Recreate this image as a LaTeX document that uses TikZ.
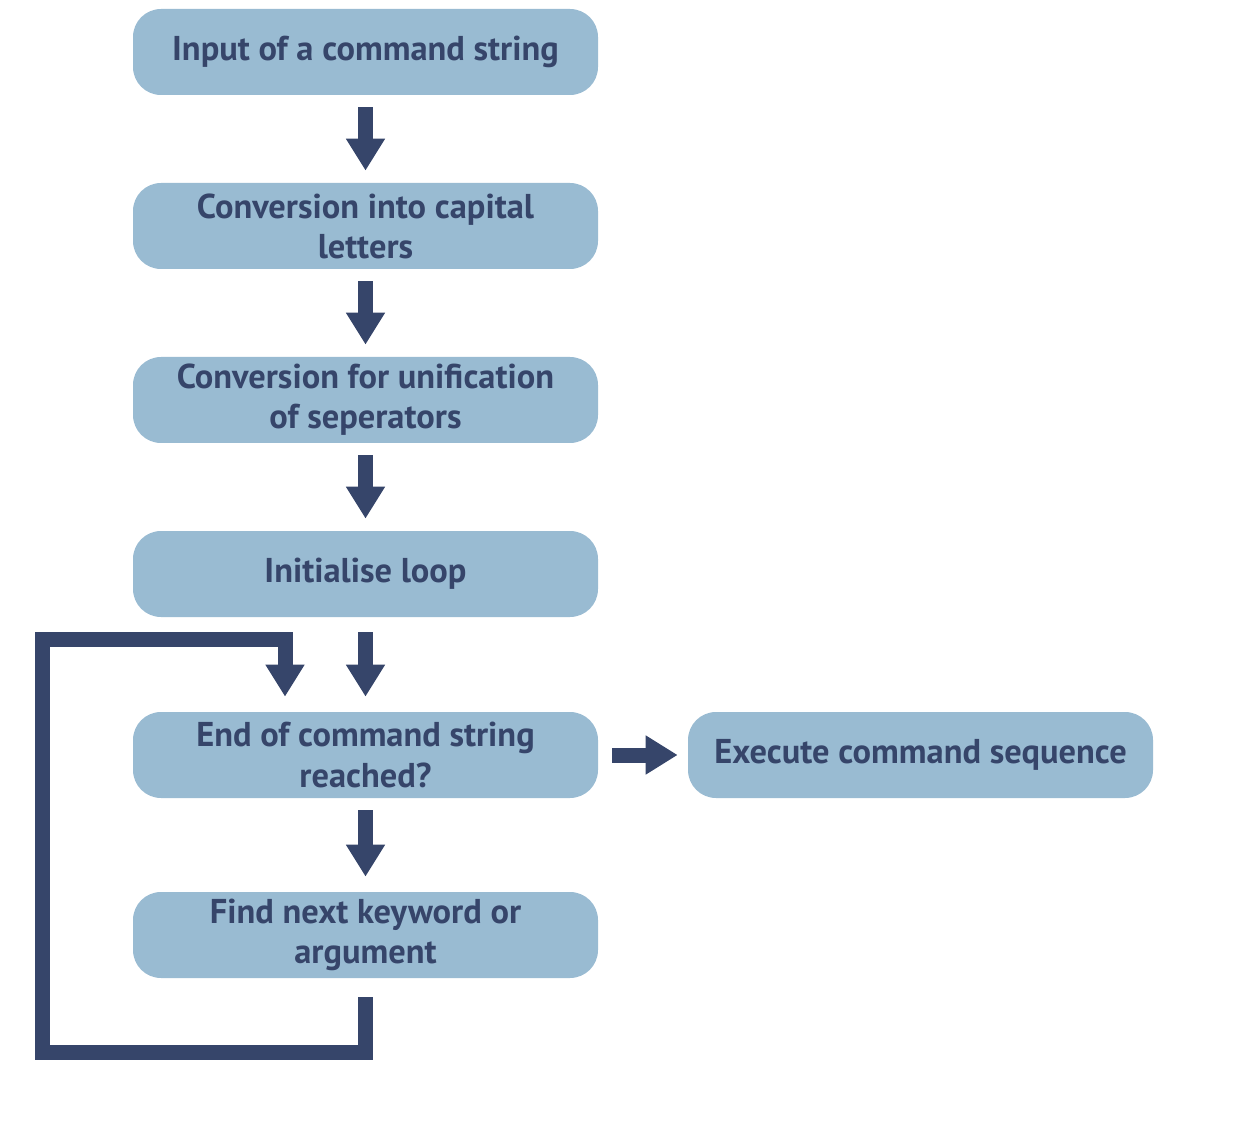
\documentclass[tikz,border=0pt]{standalone}
\usepackage{fontspec}
\setmainfont{PT Sans}
\usetikzlibrary{arrows.meta, positioning}
\definecolor{boxblue}{HTML}{99BBD2}
\definecolor{navy}{HTML}{36456A}

\begin{document}
\begin{tikzpicture}[
        node distance=3.48cm, on grid, >={Triangle[width=0.74cm, length=0.64cm]},
        every node/.style={font=\fontsize{19.6}{22.8}\selectfont\bfseries, text=navy},
        block/.style={fill=boxblue, rounded corners=0.56cm, minimum width=9.3cm,
          minimum height=1.72cm, align=center},
        fat/.style={->, color=navy, line width=0.3cm, shorten <=0.24cm, shorten >=0.24cm},
        ]
        \useasboundingbox (0,0) rectangle (24.68,-22.64);

        \node[block] (s_1) at (7.31,-1.04) {Input of a command string};
        \node[block, below=of s_1]        (s_2) {Conversion into capital\\letters};
        \node[block, below=of s_2]        (s_3) {Conversion for unification\\of seperators};
        \node[block, below=of s_3]        (s_4) {Initialise loop};
        \node[block, below=3.62cm of s_4] (s_5) {End of command string\\reached?};
        \node[block, below=3.6cm of s_5]  (s_6) {Find next keyword or\\argument};
        \node[block, right=11.1cm of s_5] (s_7) {Execute command sequence};

        % loop back from the bottom box
        \coordinate (lb) at (0.85,-21.05);
        \coordinate (lt) at (0.85,-12.79);
        \coordinate (back) at ([xshift=-1.61cm]s_5.north);

        \draw[fat] (s_1) -- (s_2);
        \draw[fat] (s_2) -- (s_3);
        \draw[fat] (s_3) -- (s_4);
        \draw[fat, shorten <=0.3cm, shorten >=0.3cm] (s_4) -- (s_5);
        \draw[fat, shorten >=0.3cm] (s_5) -- (s_6);
        \draw[fat, shorten <=0.28cm, shorten >=0.2cm] (s_5) -- (s_7);
        \draw[fat, shorten <=0.38cm, shorten >=0.3cm] (s_6.south) |- (lb) -- (lt) -| (back);
      \end{tikzpicture}
\end{document}
